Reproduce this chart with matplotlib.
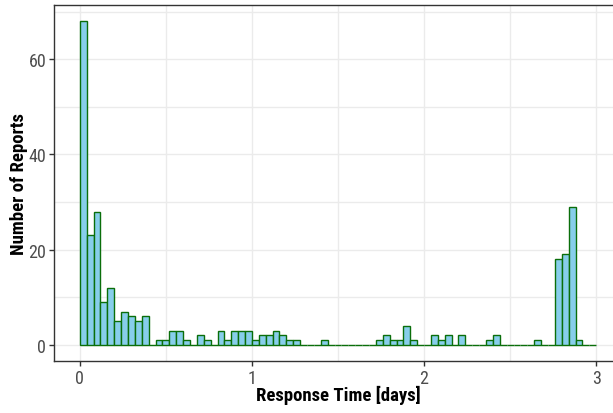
import matplotlib
matplotlib.use("Agg")
import matplotlib.pyplot as plt
from matplotlib import font_manager as fm
import numpy as np

# Histogram data: counts per 0.04-day bin starting at 0 days
bin_start = 0.0
bin_width = 0.04
counts = [68, 23, 28, 9, 12, 5, 7, 6, 5, 6,
          0, 1, 1, 3, 3, 1, 0, 2, 1, 0,
          3, 1, 3, 3, 3, 1, 2, 2, 3, 2,
          1, 1, 0, 0, 0, 1, 0, 0, 0, 0,
          0, 0, 0, 1, 2, 1, 1, 4, 1, 0,
          0, 2, 1, 2, 0, 2, 0, 0, 0, 1,
          2, 0, 0, 0, 0, 0, 1, 0, 0, 18,
          19, 29, 1, 0, 0]
x_ticks = [0, 1, 2, 3]
y_ticks = [0, 20, 40, 60]
x_label = "Response Time [days]"
y_label = "Number of Reports"

available = {f.name for f in fm.fontManager.ttflist}
cands = ['Roboto Condensed', 'Ubuntu Condensed', 'Fira Sans Condensed', 'IBM Plex Sans Condensed', 'DejaVu Sans']
fam = next(c for c in cands if c in available)

lefts = bin_start + bin_width * np.arange(len(counts))

fig = plt.figure(figsize=(6.13, 4.14), dpi=100)
ax = fig.add_axes([54/613, 52/414, (622-54)/613, (362-6)/414])

ax.bar(lefts, counts, width=bin_width, align='edge', color='#87CEEB',
       edgecolor='#0a6e0a', linewidth=1.0, zorder=3)

ax.set_xlim(-0.15, 3.15)
ax.set_ylim(-3.4, 71.4)
ax.set_xticks(x_ticks)
ax.set_yticks(y_ticks)
ax.set_xticks([0.5, 1.5, 2.5], minor=True)
ax.set_yticks([10, 30, 50, 70], minor=True)
ax.grid(True, which='both', color='#ebebeb', linewidth=1.0, zorder=0)
ax.tick_params(which='minor', length=0)
ax.tick_params(which='major', length=3.5, width=1, color='#333333',
               labelsize=13, labelcolor='#4d4d4d', pad=2)
for lab in ax.get_xticklabels() + ax.get_yticklabels():
    lab.set_family(fam)

for side in ['left', 'bottom', 'top']:
    ax.spines[side].set_color('#333333')
    ax.spines[side].set_linewidth(1.0)
ax.spines['right'].set_visible(False)
ax.set_axisbelow(True)

ax.set_xlabel(x_label, fontsize=13.5, fontweight='bold', family=fam, labelpad=-1)
ax.set_ylabel(y_label, fontsize=13.5, fontweight='bold', family=fam, labelpad=0.5)

fig.savefig("out.png", dpi=100)
